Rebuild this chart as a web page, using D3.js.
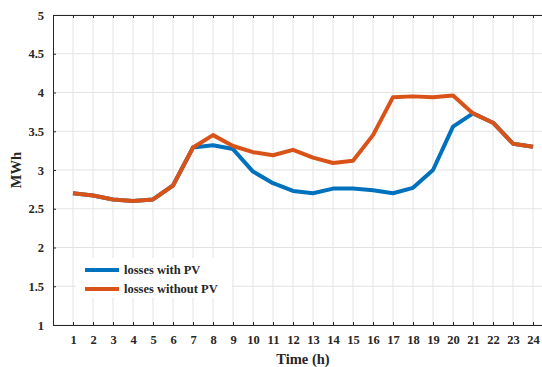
<!DOCTYPE html>
<html>
<head>
<meta charset="utf-8">
<script src="https://cdn.jsdelivr.net/npm/d3@7"></script>
<style>
  html, body { margin: 0; padding: 0; background: #fff; }
  #app { width: 542px; height: 367px; }
  text { font-family: "Liberation Serif", "Times New Roman", serif; font-weight: bold; fill: #262626; }
</style>
</head>
<body>
<div id="app"></div>
<script>
const hours = d3.range(1, 25);
const withPV    = [2.70, 2.67, 2.62, 2.60, 2.62, 2.80, 3.29, 3.32, 3.27, 2.98, 2.83, 2.73,
                   2.70, 2.76, 2.76, 2.74, 2.70, 2.77, 3.00, 3.56, 3.73, 3.61, 3.34, 3.30];
const withoutPV = [2.70, 2.67, 2.62, 2.60, 2.62, 2.80, 3.29, 3.45, 3.31, 3.23, 3.19, 3.26,
                   3.16, 3.09, 3.12, 3.45, 3.94, 3.95, 3.94, 3.96, 3.73, 3.61, 3.34, 3.30];
const yTicks = [1, 1.5, 2, 2.5, 3, 3.5, 4, 4.5, 5];
const seriesNames = ["losses with PV", "losses without PV"];
const colors = ["#0072BD", "#D95319"];

function drawPlot(targetDiv) {
  const width = 542, height = 367;
  const margin = {top: 15, bottom: 42, left: 53, right: -11};

  const svg = d3.select(targetDiv).append("svg")
    .attr("width", width)
    .attr("height", height);

  const x = d3.scaleLinear()
    .domain([0, 25])
    .range([margin.left, width - margin.right]);
  const y = d3.scaleLinear()
    .domain([1, 5])
    .range([height - margin.bottom, margin.top]);

  // grid
  svg.append("g").selectAll("line").data(hours).join("line")
    .attr("x1", d => x(d)).attr("x2", d => x(d))
    .attr("y1", y(1)).attr("y2", y(5))
    .attr("stroke", "#e3e3e3").attr("stroke-width", 1);
  svg.append("g").selectAll("line").data(yTicks).join("line")
    .attr("x1", x(0)).attr("x2", width)
    .attr("y1", d => y(d)).attr("y2", d => y(d))
    .attr("stroke", "#e3e3e3").attr("stroke-width", 1);

  // axes (ticks pointing inward)
  const xAxis = svg.append("g")
    .attr("transform", `translate(0, ${y(1)})`)
    .call(d3.axisBottom(x).tickValues(hours).tickSizeInner(-3).tickSizeOuter(0).tickPadding(10));
  xAxis.select(".domain").attr("stroke", "#262626");
  xAxis.selectAll(".tick line").attr("stroke", "#262626");
  xAxis.selectAll("text").attr("font-size", 12.5);

  const xTop = svg.append("g")
    .attr("transform", `translate(0, ${y(5)})`)
    .call(d3.axisTop(x).tickValues(hours).tickSizeInner(-3).tickSizeOuter(0).tickFormat(""));
  xTop.select(".domain").attr("stroke", "#262626");
  xTop.selectAll(".tick line").attr("stroke", "#262626");

  const yAxis = svg.append("g")
    .attr("transform", `translate(${x(0)}, 0)`)
    .call(d3.axisLeft(y).tickValues(yTicks).tickFormat(d3.format("")).tickSizeInner(-3).tickSizeOuter(0).tickPadding(9));
  yAxis.select(".domain").attr("stroke", "#262626");
  yAxis.selectAll(".tick line").attr("stroke", "#262626");
  yAxis.selectAll("text").attr("font-size", 12.5);

  // lines
  const line = d3.line().x((d, i) => x(hours[i])).y(d => y(d));
  [withPV, withoutPV].forEach((s, i) => {
    svg.append("path")
      .datum(s)
      .attr("fill", "none")
      .attr("stroke", colors[i])
      .attr("stroke-width", 4)
      .attr("stroke-linejoin", "round")
      .attr("d", line);
  });

  // axis titles
  svg.append("text")
    .attr("x", x(12.5))
    .attr("y", 364)
    .attr("text-anchor", "middle")
    .attr("font-size", 14.5)
    .text("Time (h)");
  svg.append("text")
    .attr("transform", `translate(21, ${y(3)}) rotate(-90)`)
    .attr("text-anchor", "middle")
    .attr("font-size", 14.5)
    .text("MWh");

  // legend
  const legend = svg.append("g").attr("transform", "translate(76, 258)");
  legend.append("rect")
    .attr("width", 156).attr("height", 40)
    .attr("fill", "#fff");
  seriesNames.forEach((name, i) => {
    const ly = 12 + i * 19;
    legend.append("line")
      .attr("x1", 9).attr("x2", 43)
      .attr("y1", ly).attr("y2", ly)
      .attr("stroke", colors[i]).attr("stroke-width", 4);
    legend.append("text")
      .attr("x", 48).attr("y", ly + 4)
      .attr("font-size", 12.5)
      .text(name);
  });
}

drawPlot("#app");
</script>
</body>
</html>
